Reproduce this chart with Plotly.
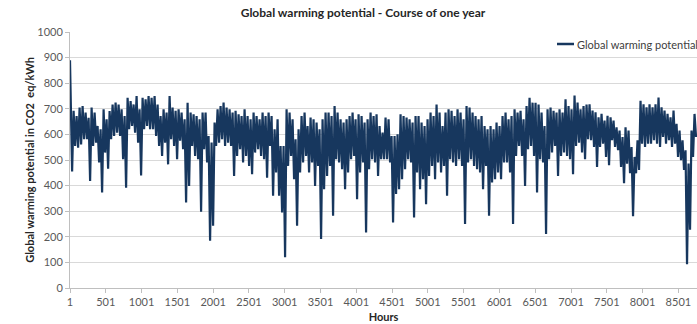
import numpy as np
import plotly.graph_objects as go

# Hourly global warming potential, summarised as upper / lower value of each
# consecutive block of hours (209 blocks covering the 8760 hours of the year)
block_high = [
    890, 692, 672, 705, 711, 685, 665, 705, 685, 633, 620, 698, 659, 691, 717, 724, 717,
    698, 672, 743, 730, 717, 750, 698, 743, 737, 750, 743, 750, 717, 672, 698, 685,
    750, 705, 692, 698, 685, 659, 724, 685, 679, 672, 659, 685, 685, 594, 568, 646, 698,
    711, 724, 705, 698, 685, 692, 679, 672, 698, 672, 659, 685, 672, 659, 685, 672, 685,
    672, 620, 659, 555, 555, 698, 685, 659, 581, 620, 672, 685, 633, 666, 659, 646, 620,
    659, 685, 685, 672, 711, 685, 659, 646, 659, 672, 685, 659, 679, 672, 646, 659, 685, 672,
    679, 633, 607, 666, 659, 594, 594, 600, 679, 672, 666, 659, 646, 672, 672, 646, 633,
    659, 685, 672, 717, 685, 633, 685, 698, 692, 672, 698, 685, 659, 711, 705, 685, 672, 659,
    672, 633, 620, 633, 620, 646, 633, 672, 685, 659, 672, 698, 685, 692, 659, 711, 743, 724,
    724, 717, 685, 633, 698, 705, 692, 685, 698, 685, 737, 711, 698, 752, 724, 698, 711, 717,
    718, 693, 686, 667, 680, 654, 673, 667, 654, 628, 615, 590, 628, 615, 551, 512, 577, 731,
    718, 706, 718, 706, 718, 744, 706, 693, 680, 667, 693, 641, 615, 577, 538, 486, 615, 680,
]
block_low = [
    455, 555, 548, 561, 581, 581, 418, 555, 568, 490, 373, 529, 466, 581, 594, 607, 594,
    503, 392, 620, 633, 607, 568, 440, 620, 633, 620, 620, 594, 555, 516, 568, 483,
    581, 555, 503, 575, 542, 334, 399, 555, 516, 503, 298, 542, 490, 185, 243, 555, 568,
    581, 555, 568, 555, 438, 516, 542, 490, 516, 477, 444, 529, 542, 516, 503, 431, 555,
    360, 451, 360, 295, 120, 477, 516, 425, 243, 451, 490, 516, 451, 490, 399, 477, 191,
    386, 438, 477, 282, 503, 490, 464, 386, 451, 503, 516, 347, 451, 490, 217, 464, 503, 490,
    438, 503, 503, 503, 490, 256, 367, 386, 425, 464, 503, 490, 275, 451, 386, 425, 327,
    438, 477, 425, 490, 451, 477, 360, 503, 490, 477, 503, 477, 250, 490, 503, 477, 464, 451,
    386, 477, 282, 412, 425, 451, 425, 490, 490, 451, 250, 516, 555, 516, 399, 542, 555, 516,
    373, 503, 490, 211, 503, 529, 555, 438, 516, 529, 516, 503, 444, 555, 568, 529, 503, 581,
    577, 551, 473, 551, 564, 512, 480, 577, 551, 538, 473, 409, 486, 448, 280, 448, 461, 564,
    551, 564, 564, 577, 564, 551, 590, 564, 577, 551, 564, 512, 499, 461, 93, 228, 512, 590,
]

series_name = "Global warming potential"
hour_ticks = list(range(1, 8761, 500))
hour_labels = [str(h) for h in hour_ticks]
y_ticks = list(range(0, 1001, 100))

# Place the upper and lower value of each block inside its span of hours
n_blocks = len(block_high)
block_len = 8759 / n_blocks
hours, values = [], []
for k in range(n_blocks):
    start = 1 + k * block_len
    hours += [start + 0.2 * block_len, start + 0.7 * block_len]
    values += [block_high[k], block_low[k]]
hours[0] = 1

FONT = "Lato, 'Open Sans', sans-serif"
TEXT = "#404040"
LINE = "#17375e"

# plot area in pixels: x 70..697, y 32..288
PL, PW, PB, PH = 70, 627, 288, 256


def px(x):
    return (x - PL) / PW


def py(y):
    return (PB - y) / PH


fig = go.Figure()
fig.add_trace(go.Scatter(
    x=hours, y=values, mode="lines",
    name=series_name,
    line=dict(color=LINE, width=2.2),
    showlegend=False,
))

# Legend entry in the top right corner
fig.add_shape(type="line", xref="paper", yref="paper",
              x0=px(557), x1=px(574), y0=py(44), y1=py(44),
              line=dict(color=LINE, width=2.5))
fig.add_annotation(text=series_name, xref="paper", yref="paper",
                   x=px(575), y=py(44), xanchor="left", yanchor="middle",
                   showarrow=False,
                   font=dict(family=FONT, size=11, color=TEXT))

fig.update_layout(
    width=697, height=324,
    margin=dict(l=70, r=0, t=32, b=36),
    paper_bgcolor="white", plot_bgcolor="white",
    font=dict(family=FONT, size=11, color=TEXT),
    title=dict(
        text="<b>Global warming potential - Course of one year</b>",
        x=363 / 697, xanchor="center", y=1 - 12.5 / 324, yanchor="middle",
        font=dict(family=FONT, size=12, color="#262626"),
    ),
    xaxis=dict(
        range=[1, 8761], tickmode="array", tickvals=hour_ticks, ticktext=hour_labels,
        showgrid=False, zeroline=False,
        showline=True, linecolor="#bfbfbf", linewidth=1,
        ticks="outside", ticklen=4, tickcolor="#bfbfbf",
        tickfont=dict(family=FONT, size=11, color="#595959"),
        title=dict(text="<b>Hours</b>", standoff=6,
                   font=dict(family=FONT, size=11, color="#262626")),
    ),
    yaxis=dict(
        range=[0, 1000], tickmode="array", tickvals=y_ticks,
        showgrid=True, gridcolor="#d9d9d9", gridwidth=1, zeroline=False,
        showline=True, linecolor="#bfbfbf", linewidth=1,
        ticks="outside", ticklen=4, tickcolor="#bfbfbf",
        tickfont=dict(family=FONT, size=11, color="#595959"),
        title=dict(text="<b>Global warming potential in CO2  eq/kWh</b>", standoff=0,
                   font=dict(family=FONT, size=11, color="#262626")),
    ),
)

fig.write_html("out.html")
